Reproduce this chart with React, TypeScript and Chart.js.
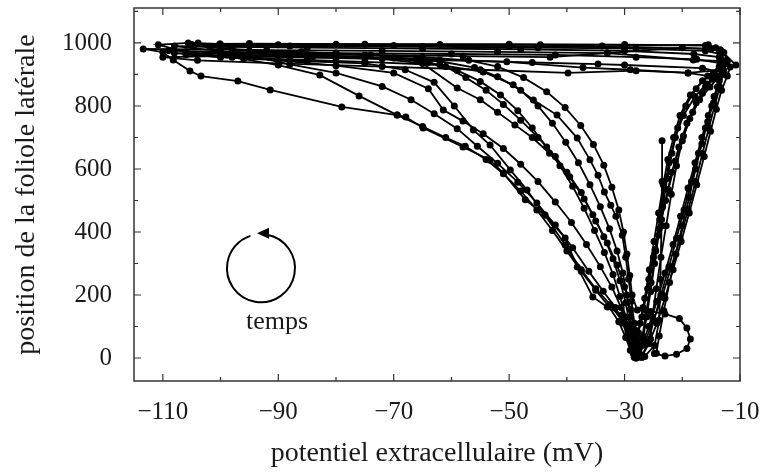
import React, { useEffect, useRef } from "react";
import { Chart, registerables } from "chart.js";

Chart.register(...registerables);

// Axis ticks
const xTickValues = [-110, -90, -70, -50, -30, -10];
const xMinorTicks = [-100, -80, -60, -40, -20];
const yTickValues = [0, 200, 400, 600, 800, 1000];
const yMinorTicks = [100, 300, 500, 700, 900, 1100];

const xTitle = "potentiel extracellulaire (mV)";
const yTitle = "position de la foliole latérale";
const timeLabel = "temps";

// Successive cycles: [potential (mV), leaflet position]
const cycle1: [number, number][] = [
  [-27.2, 8], [-26.8, 60], [-26.2, 130], [-25.5, 210], [-24.8, 300], [-24.1, 390], [-23.4, 480], [-22.6, 570], [-21.8, 650], [-20.8, 730], [-19.4, 800], [-17.6, 855], [-15.6, 895], [-13.6, 925], [-12.2, 942],
  [-18.1, 946], [-33, 968], [-52, 972], [-72, 975], [-92, 977], [-113.4, 981],
  [-110, 971], [-108.2, 946], [-105.3, 911], [-103.4, 895], [-97, 879], [-91.4, 851], [-79, 797], [-69.4, 771], [-67.9, 765], [-64.9, 730], [-58, 670], [-53.3, 628], [-51, 587], [-47.2, 502], [-43.8, 454], [-40.3, 381], [-38.2, 289], [-35.5, 194], [-33, 162], [-30.4, 137], [-29.4, 85], [-28.6, 35], [-27.8, 6],
];

const cycle2: [number, number][] = [
  [-27.8, 6], [-26.5, 50], [-25, 120], [-23.4, 200], [-21.9, 290], [-20.4, 380], [-19, 470], [-17.7, 560], [-16.5, 650], [-15.4, 730], [-14.4, 800], [-13.5, 860], [-12.8, 910], [-13.4, 978],
  [-15.5, 994], [-33.9, 990], [-44.6, 994], [-62, 995], [-80, 996], [-100.1, 997], [-105.6, 1000], [-110.8, 994],
  [-106, 972], [-98, 955], [-90, 930], [-82.8, 898], [-76, 832], [-69.4, 771], [-65, 735], [-61, 700], [-57.6, 672], [-54, 630], [-51, 585], [-48, 530], [-45.2, 470], [-42.5, 405], [-40, 340], [-37.5, 275], [-35, 215], [-32.8, 165], [-31, 115], [-29.8, 65], [-29, 25], [-28.3, 2],
];

const cycle3: [number, number][] = [
  [-28.3, 2], [-28, 45], [-27.3, 110], [-26.5, 190], [-25.7, 280], [-24.9, 370], [-24.1, 460], [-23.3, 550], [-22.5, 630], [-21.5, 700], [-20.4, 770], [-18.6, 835], [-16.5, 880], [-14.6, 905], [-13, 915],
  [-19, 905], [-29, 915], [-37.2, 922], [-50.4, 940], [-66, 950], [-84, 957], [-99, 963], [-103.9, 1000],
  [-100, 962], [-90, 945], [-80, 928], [-70, 905], [-64, 855], [-61.4, 787], [-58, 752], [-54.5, 712], [-51, 665], [-48, 615], [-45, 560], [-42, 495], [-39.2, 430], [-36.6, 360], [-34.2, 290], [-32.2, 225], [-30.6, 160], [-29.5, 100], [-28.8, 45], [-28.1, 4],
];

const cycle4: [number, number][] = [
  [-27, 5], [-25.8, 45], [-24.4, 110], [-23, 190], [-21.6, 280], [-20.2, 370], [-18.8, 460], [-17.5, 550], [-16.2, 640], [-15.1, 720], [-14.1, 790], [-13.2, 850], [-12.2, 895], [-11.7, 924], [-10.7, 930],
  [-13.4, 978], [-20, 985], [-33, 968], [-42.9, 955], [-58, 958], [-75, 962], [-92, 966], [-108, 968],
  [-100, 955], [-88, 948], [-75, 940], [-62, 930], [-54.5, 908], [-49.3, 867], [-45.8, 819], [-41.7, 771], [-38.2, 698], [-36, 629], [-34.6, 580], [-33.5, 527], [-32.4, 485], [-31.5, 450], [-30.4, 390], [-29.8, 320], [-29.3, 250], [-28.8, 180], [-28.3, 110], [-27.8, 50], [-27.3, 8],
];

const cycle5: [number, number][] = [
  [-27.3, 8], [-26.9, 70], [-26.2, 150], [-25.4, 240], [-24.6, 340], [-23.9, 440], [-23.1, 540], [-22.3, 620], [-21.2, 700], [-19.8, 770], [-17.8, 830], [-15.8, 870], [-14, 895], [-12.8, 905],
  [-16.5, 920], [-30, 930], [-34.6, 933], [-46, 938], [-62, 946], [-80, 952], [-96, 958], [-106, 963],
  [-96, 950], [-85, 942], [-75, 935], [-68, 915], [-63, 875], [-59.5, 800], [-56.2, 724], [-53.3, 676], [-49.8, 597], [-46.9, 533], [-43.8, 454], [-40.3, 359], [-37.5, 280], [-35, 220], [-32.5, 170], [-30.5, 120], [-29.5, 70], [-28.7, 25], [-28, 0],
];

const cycle6: [number, number][] = [
  [-28, 0], [-27, 40], [-25.8, 100], [-24.4, 180], [-23, 270], [-21.6, 360], [-20.3, 450], [-19, 540], [-17.8, 620], [-16.6, 700], [-15.5, 770], [-14.5, 830], [-13.6, 880], [-13, 920], [-13.6, 955],
  [-18, 965], [-30, 975], [-48, 980], [-65, 982], [-85, 985], [-100, 988], [-108, 990],
  [-98, 970], [-85, 962], [-75, 955], [-65, 935], [-59, 857], [-55, 820], [-52, 780], [-49, 740], [-46, 700], [-43, 650], [-40, 590], [-37.5, 525], [-35.5, 455], [-33.6, 385], [-32, 315], [-30.8, 245], [-29.8, 175], [-29.1, 105], [-28.5, 45], [-27.6, 2],
];

const cycle7: [number, number][] = [
  [-24.5, 15], [-24, 70], [-23.2, 150], [-22.2, 240], [-21.1, 330], [-20, 420], [-18.8, 510], [-17.7, 600], [-16.6, 680], [-15.6, 750], [-14.6, 810], [-13.8, 860], [-13, 900], [-12.4, 935], [-13.3, 965],
  [-16, 975], [-28, 982], [-45, 985], [-65, 988], [-88, 990], [-105, 992],
  [-95, 975], [-80, 965], [-65, 955], [-57, 945], [-52, 925], [-47.5, 890], [-43.5, 845], [-40.3, 795], [-37.6, 738], [-35.4, 678], [-33.6, 612], [-32.2, 542], [-31, 470], [-30.2, 400], [-29.6, 330], [-29.1, 262], [-28.7, 200], [-27.8, 152], [-25.5, 148], [-23, 140], [-20.5, 125], [-19.2, 95], [-18.6, 60], [-19.2, 30], [-21, 12], [-23, 6], [-24.8, 14],
];

const cycle8: [number, number][] = [
  [-24.8, 14], [-25.5, 60], [-25.2, 130], [-24.5, 220], [-23.7, 320], [-22.8, 420], [-21.9, 520], [-21, 610], [-20, 690], [-18.7, 760], [-17, 820], [-15.2, 860], [-13.8, 890],
  [-19, 905], [-28, 912], [-39.8, 905], [-55, 915], [-72, 925], [-90, 935], [-104, 945], [-110, 955],
  [-100, 958], [-85, 955], [-72, 950], [-62, 942], [-56, 922], [-52, 893], [-48, 850], [-45, 800], [-42.5, 745], [-40.2, 685], [-38, 620], [-36, 550], [-34.2, 480], [-32.6, 410], [-31.3, 340], [-30.3, 270], [-29.6, 200], [-29, 130], [-28.6, 70], [-28.2, 22],
];

const cycle9: [number, number][] = [
  [-28.2, 22], [-27.6, 80], [-26.8, 160], [-25.8, 250], [-24.7, 345], [-23.6, 440], [-22.4, 535], [-21.2, 625], [-19.8, 705], [-18.2, 780], [-16.5, 840], [-14.8, 885], [-13.5, 940], [-14.2, 985],
  [-16, 992], [-30, 995], [-50, 996], [-75, 996], [-95, 998], [-100.1, 997],
  [-95, 960], [-88, 932], [-80, 905], [-72, 862], [-67, 820], [-63, 775], [-59, 728], [-55.5, 672], [-52, 618], [-48.5, 558], [-45.2, 492], [-42, 422], [-39, 350], [-36.2, 275], [-33.7, 212], [-31.6, 160], [-30.1, 110], [-29.1, 60], [-28.4, 12],
];

const cycle10: [number, number][] = [
  [-28.4, 12], [-27.9, 60], [-27, 130], [-26, 220], [-25, 320], [-24, 410], [-22.9, 500], [-21.8, 590], [-20.6, 670], [-19.2, 745], [-17.6, 810], [-16, 860], [-14.5, 900], [-13.2, 935],
  [-17.5, 948], [-28, 955], [-42, 962], [-60, 965], [-80, 968], [-100, 972], [-109, 976],
  [-95, 966], [-80, 958], [-70, 952], [-64, 938], [-59, 913], [-55, 878], [-51.5, 835], [-48.5, 785], [-46, 730], [-43.5, 670], [-41.2, 610], [-39, 545], [-37, 475], [-35.2, 405], [-33.5, 335], [-32, 265], [-30.8, 195], [-29.8, 130], [-28.8, 70], [-27.6, 20], [-27, 2],
];

const cycle11: [number, number][] = [
  [-27, 2], [-26, 50], [-24.9, 120], [-23.7, 200], [-22.3, 290], [-21, 380], [-19.7, 470], [-18.4, 560], [-17.2, 650], [-16, 730], [-14.9, 800], [-13.9, 860], [-13, 905], [-12.3, 945], [-12.8, 970],
  [-15, 982], [-30, 986], [-50, 990], [-70, 992], [-90, 994], [-105, 995],
  [-98, 980], [-86, 972], [-74, 962], [-66, 948], [-61, 925], [-57.5, 890], [-54, 850], [-51, 805], [-48, 755], [-45, 700], [-42, 640], [-39.5, 575], [-37, 505], [-35, 435], [-33, 365], [-31.3, 295], [-30, 225], [-29, 155], [-28.2, 90], [-27.5, 30], [-26.5, 5], [-24.8, 40], [-24, 120], [-23.8, 250], [-23.6, 420], [-23.5, 560], [-23.5, 690],
];

const cycles = [cycle1, cycle2, cycle3, cycle4, cycle5, cycle6, cycle7, cycle8, cycle9, cycle10, cycle11];

// Position of the "temps" annotation (data coordinates)
const timeMarkerCenter: [number, number] = [-93, 285];
const timeLabelPos: [number, number] = [-90.2, 114];

const FONT = "'Liberation Serif', 'DejaVu Serif', serif";
const INK = "#1a1a1a";

const framePlugin = {
  id: "frameTicks",
  afterDatasetsDraw(chart: any) {
    const { ctx, chartArea: a, scales } = chart;
    const xs = scales.x;
    const ys = scales.y;
    ctx.save();
    ctx.strokeStyle = "#333";
    ctx.lineWidth = 1.5;
    ctx.strokeRect(a.left, a.top, a.right - a.left, a.bottom - a.top);
    ctx.lineWidth = 1.2;
    const drawX = (v: number, len: number) => {
      const px = xs.getPixelForValue(v);
      ctx.beginPath();
      ctx.moveTo(px, a.bottom);
      ctx.lineTo(px, a.bottom - len);
      ctx.moveTo(px, a.top);
      ctx.lineTo(px, a.top + len);
      ctx.stroke();
    };
    const drawY = (v: number, len: number) => {
      const py = ys.getPixelForValue(v);
      ctx.beginPath();
      ctx.moveTo(a.left, py);
      ctx.lineTo(a.left + len, py);
      ctx.moveTo(a.right, py);
      ctx.lineTo(a.right - len, py);
      ctx.stroke();
    };
    xTickValues.forEach((v) => drawX(v, 7));
    xMinorTicks.forEach((v) => drawX(v, 4));
    yTickValues.forEach((v) => drawY(v, 7));
    yMinorTicks.forEach((v) => drawY(v, 4));

    // time direction marker
    const cx = xs.getPixelForValue(timeMarkerCenter[0]);
    const cy = ys.getPixelForValue(timeMarkerCenter[1]);
    const r = 34;
    ctx.strokeStyle = "#000";
    ctx.lineWidth = 2;
    ctx.beginPath();
    ctx.arc(cx, cy, r, (-80 * Math.PI) / 180, (-108 * Math.PI) / 180, false);
    ctx.stroke();
    ctx.fillStyle = "#000";
    ctx.beginPath();
    ctx.moveTo(cx - 4, cy - r - 1);
    ctx.lineTo(cx + 8, cy - r - 6.5);
    ctx.lineTo(cx + 8, cy - r + 4.5);
    ctx.closePath();
    ctx.fill();

    ctx.fillStyle = INK;
    ctx.font = `26px ${FONT}`;
    ctx.textAlign = "center";
    ctx.textBaseline = "middle";
    ctx.fillText(
      timeLabel,
      xs.getPixelForValue(timeLabelPos[0]),
      ys.getPixelForValue(timeLabelPos[1])
    );
    ctx.restore();
  },
};

const fmt = (v: number) => (v < 0 ? "\u2212" + Math.abs(v) : String(v));

export default function App() {
  const ref = useRef<HTMLCanvasElement | null>(null);

  useEffect(() => {
    if (!ref.current) return;
    const datasets = cycles.map((c) => ({
      data: c.map(([x, y]) => ({ x, y })),
      showLine: true,
      borderColor: "#000",
      backgroundColor: "#000",
      borderWidth: 1.8,
      pointRadius: 3.5,
      pointBorderWidth: 0,
      pointHoverRadius: 3.5,
      tension: 0,
    }));
    const chart = new Chart(ref.current, {
      type: "scatter",
      data: { datasets },
      plugins: [framePlugin],
      options: {
        animation: false,
        responsive: true,
        maintainAspectRatio: false,
        layout: { padding: { left: 0, top: 8, right: 25, bottom: 0 } },
        plugins: { legend: { display: false }, tooltip: { enabled: false } },
        scales: {
          x: {
            type: "linear",
            min: -115,
            max: -10,
            afterBuildTicks: (s: any) => {
              s.ticks = xTickValues.map((v) => ({ value: v }));
            },
            afterFit: (s: any) => {
              s.height = 92;
              s.paddingLeft = 0;
              s.paddingRight = 0;
            },
            grid: { display: false, drawTicks: false },
            border: { display: false },
            ticks: {
              color: INK,
              font: { family: FONT, size: 25 },
              padding: 16,
              maxRotation: 0,
              autoSkip: false,
              callback: (v: any) => fmt(Number(v)),
            },
            title: {
              display: true,
              text: xTitle,
              color: INK,
              font: { family: FONT, size: 28 },
              padding: { top: 0, bottom: 3 },
            },
          },
          y: {
            type: "linear",
            min: -73,
            max: 1111,
            afterBuildTicks: (s: any) => {
              s.ticks = yTickValues.map((v) => ({ value: v }));
            },
            afterFit: (s: any) => {
              s.width = 134;
              s.paddingTop = 0;
              s.paddingBottom = 0;
            },
            grid: { display: false, drawTicks: false },
            border: { display: false },
            ticks: {
              color: INK,
              font: { family: FONT, size: 25 },
              padding: 22,
              autoSkip: false,
              callback: (v: any) => fmt(Number(v)),
            },
            title: {
              display: true,
              text: yTitle,
              color: INK,
              font: { family: FONT, size: 28 },
              padding: { top: 10, bottom: 0 },
            },
          },
        },
      },
    });
    return () => chart.destroy();
  }, []);

  return (
    <div style={{ position: "fixed", left: 0, top: 0, width: 765, height: 473, background: "#fff" }}>
      <canvas ref={ref} />
    </div>
  );
}
